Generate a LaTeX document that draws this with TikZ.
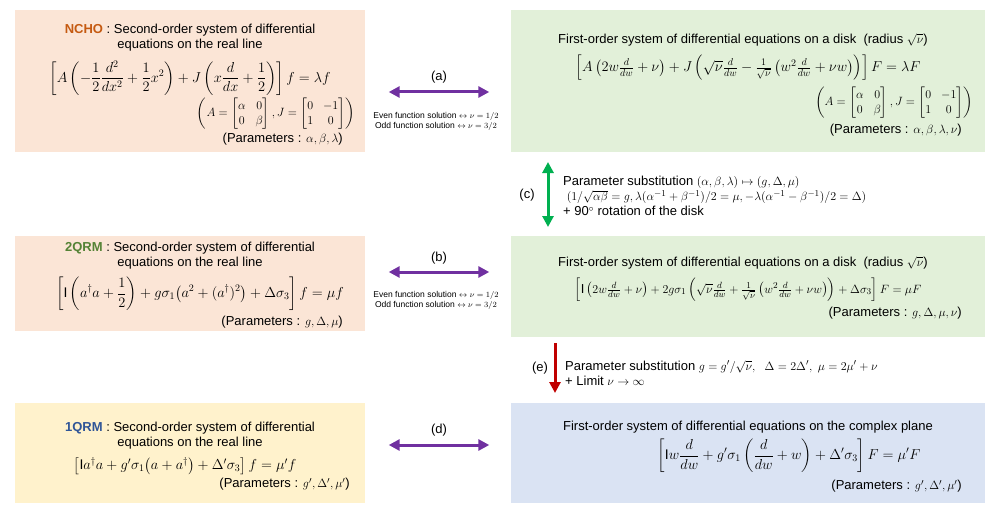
\documentclass[tikz,border=0pt]{standalone}
\usepackage{amsmath}
\usepackage{amssymb}
\usepackage{fontspec}
\setmainfont{Liberation Sans}
\usetikzlibrary{calc,arrows.meta}
\definecolor{peach}{HTML}{FBE5D6}
\definecolor{mint}{HTML}{E2F0D9}
\definecolor{cream}{HTML}{FFF2CC}
\definecolor{sky}{HTML}{DAE3F3}
\definecolor{nchocol}{HTML}{C55A11}
\definecolor{twocol}{HTML}{548235}
\definecolor{onecol}{HTML}{2F5597}
\definecolor{purp}{HTML}{7030A0}
\definecolor{grn}{HTML}{00B050}
\definecolor{rd}{HTML}{C00000}
\tikzset{
  panel/.style={draw=none, inner sep=0pt},
  txt/.style={inner sep=0pt, font=\fontsize{13}{15}\selectfont, align=center},
  eqn/.style={inner sep=0pt, font=\fontsize{14}{16}\selectfont, align=center},
  small/.style={inner sep=0pt, font=\fontsize{8.5}{10}\selectfont, align=center},
  link/.style={line width=3pt, {Triangle[length=11pt,width=11pt]}-{Triangle[length=11pt,width=11pt]}},
  down/.style={line width=3pt, -{Triangle[length=11pt,width=11pt]}}
}
\begin{document}
\begin{tikzpicture}[x=1pt,y=-1pt]
  \useasboundingbox (0,0) rectangle (1000,516);
  % boxes
  \fill[peach] (15,10) rectangle (365,152);
  \fill[mint] (511,10) rectangle (985,152);
  \fill[peach] (15,236) rectangle (365,331);
  \fill[mint] (511,236) rectangle (985,337);
  \fill[cream] (15,403) rectangle (365,503);
  \fill[sky] (511,403) rectangle (985,503);
  \node[panel] (ncho) at (365,92) {};
  \node[panel] (disk1) at (511,92) {};
  \node[panel] (qrm2) at (365,272) {};
  \node[panel] (disk2) at (511,272) {};
  \node[panel] (qrm1) at (365,445) {};
  \node[panel] (plane) at (511,445) {};
  % NCHO
  \node[txt] (nchot) at (190,38) {{\color{nchocol}\textbf{NCHO}} : Second-order system of differential\\equations on the real line};
  \node[eqn] (nchoe) at (190,78) {$\displaystyle\left[A\left(-\frac{1}{2}\frac{d^2}{dx^2}+\frac{1}{2}x^2\right)+J\left(x\frac{d}{dx}+\frac{1}{2}\right)\right]f=\lambda f$};
  \node[txt, anchor=east] (nchom) at (355,114) {$\left(A=\begin{bmatrix}\alpha&0\\0&\beta\end{bmatrix},J=\begin{bmatrix}0&-1\\1&0\end{bmatrix}\right)$};
  \node[txt, anchor=east] (nchop) at (343,139) {(Parameters : $\alpha,\beta,\lambda$)};
  % disk 1
  \node[txt] (disk1t) at (743,40) {First-order system of differential equations on a disk\; ($\mathrm{radius}\ \sqrt{\nu}$)};
  \node[eqn] (disk1e) at (748,68) {$\left[A\left(2w\frac{d}{dw}+\nu\right)+J\left(\sqrt{\nu}\frac{d}{dw}-\frac{1}{\sqrt{\nu}}\left(w^2\frac{d}{dw}+\nu w\right)\right)\right]F=\lambda F$};
  \node[txt, anchor=east] (disk1m) at (973,103) {$\left(A=\begin{bmatrix}\alpha&0\\0&\beta\end{bmatrix},J=\begin{bmatrix}0&-1\\1&0\end{bmatrix}\right)$};
  \node[txt, anchor=east] (disk1p) at (962,130) {(Parameters : $\alpha,\beta,\lambda,\nu$)};
  % 2QRM
  \node[txt] (qrm2t) at (190,256) {{\color{twocol}\textbf{2QRM}} : Second-order system of differential\\equations on the real line};
  \node[eqn] (qrm2e) at (200,294) {$\displaystyle\left[\mathrm{I}\left(a^\dagger a+\frac{1}{2}\right)+g\sigma_1\bigl(a^2+(a^\dagger)^2\bigr)+\Delta\sigma_3\right]f=\mu f$};
  \node[txt, anchor=east] (qrm2p) at (343,322) {(Parameters : $g,\Delta,\mu$)};
  % disk 2
  \node[txt] (disk2t) at (743,263) {First-order system of differential equations on a disk\; ($\mathrm{radius}\ \sqrt{\nu}$)};
  \node[txt] (disk2e) at (748,290) {$\left[\mathrm{I}\left(2w\frac{d}{dw}+\nu\right)+2g\sigma_1\left(\sqrt{\nu}\frac{d}{dw}+\frac{1}{\sqrt{\nu}}\left(w^2\frac{d}{dw}+\nu w\right)\right)+\Delta\sigma_3\right]F=\mu F$};
  \node[txt, anchor=east] (disk2p) at (962,313) {(Parameters : $g,\Delta,\mu,\nu$)};
  % 1QRM
  \node[txt] (qrm1t) at (190,436) {{\color{onecol}\textbf{1QRM}} : Second-order system of differential\\equations on the real line};
  \node[eqn] (qrm1e) at (185,466) {$\left[\mathrm{I}a^\dagger a+g'\sigma_1\bigl(a+a^\dagger\bigr)+\Delta'\sigma_3\right]f=\mu' f$};
  \node[txt, anchor=east] (qrm1p) at (350,484) {(Parameters : $g',\Delta',\mu'$)};
  % complex plane
  \node[txt] (planet) at (748,427) {First-order system of differential equations on the complex plane};
  \node[eqn] (planee) at (789,456) {$\displaystyle\left[\mathrm{I}w\frac{d}{dw}+g'\sigma_1\left(\frac{d}{dw}+w\right)+\Delta'\sigma_3\right]F=\mu' F$};
  \node[txt, anchor=east] (planep) at (962,486) {(Parameters : $g',\Delta',\mu'$)};
  % horizontal links
  \draw[link, purp, shorten <=23pt, shorten >=21pt] (ncho) -- (disk1);
  \draw[link, purp, shorten <=23pt, shorten >=21pt] (qrm2) -- (disk2);
  \draw[link, purp, shorten <=23pt, shorten >=21pt] (qrm1) -- (plane);
  \node[txt] (la) at (439,77) {(a)};
  \node[small] (sa) at (436,121) {Even function solution $\leftrightarrow\nu=1/2$\\Odd function solution $\leftrightarrow\nu=3/2$};
  \node[txt] (lb) at (439,258) {(b)};
  \node[small] (sb) at (436,300) {Even function solution $\leftrightarrow\nu=1/2$\\Odd function solution $\leftrightarrow\nu=3/2$};
  \node[txt] (ld) at (439,430) {(d)};
  % vertical links
  \coordinate (cx) at (548,0);
  \coordinate (ex) at (555,0);
  \draw[link, grn, shorten <=10pt, shorten >=9pt] (cx |- 0,152) -- (cx |- 0,236);
  \node[txt] (lc) at (527,195) {(c)};
  \node[txt, anchor=west, align=left] (sc) at (563,196) {Parameter substitution $(\alpha,\beta,\lambda)\mapsto(g,\Delta,\mu)$\\
    \ $(1/\sqrt{\alpha\beta}=g,\lambda(\alpha^{-1}+\beta^{-1})/2=\mu,-\lambda(\alpha^{-1}-\beta^{-1})/2=\Delta)$\\
    + 90$^\circ$ rotation of the disk};
  \draw[down, rd, shorten <=6pt, shorten >=10pt] (ex |- 0,337) -- (ex |- 0,403);
  \node[txt] (le) at (540,368) {(e)};
  \node[txt, anchor=west, align=left] (se) at (565,373) {Parameter substitution $g=g'/\sqrt{\nu},\ \ \Delta=2\Delta',\ \mu=2\mu'+\nu$\\
    + Limit $\nu\to\infty$};
\end{tikzpicture}
\end{document}
